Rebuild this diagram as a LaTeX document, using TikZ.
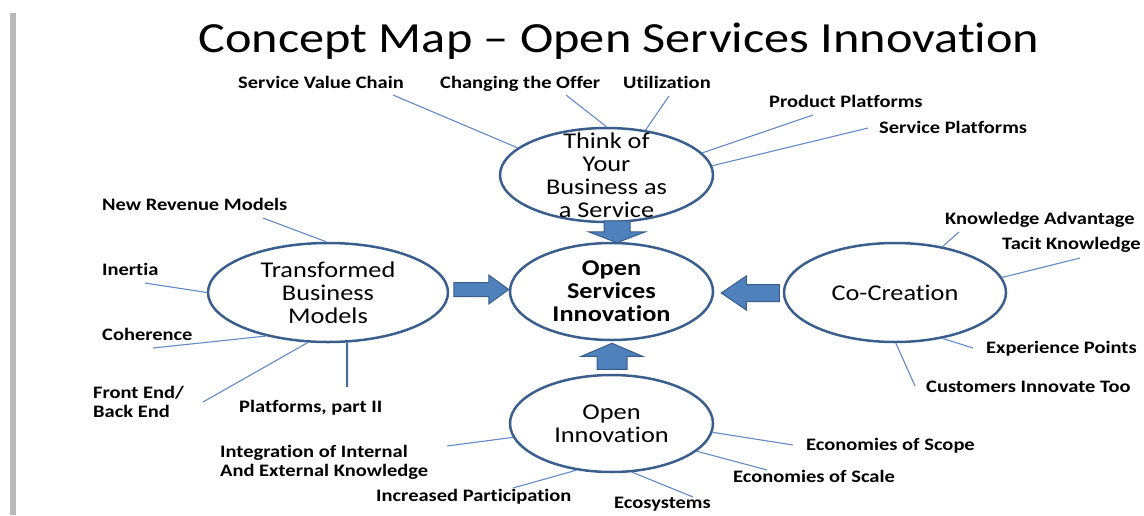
\documentclass[tikz,border=0pt]{standalone}
\usepackage{fontspec}
\setmainfont[FakeStretch=1.17, Ligatures={TeX,NoCommon}]{Carlito}
\usetikzlibrary{shapes.geometric}
\definecolor{rimblue}{RGB}{58,95,140}
\definecolor{arrowfill}{RGB}{79,129,189}
\definecolor{arrowrim}{RGB}{56,93,138}
\definecolor{twigblue}{RGB}{98,138,198}
\tikzset{
  concept/.style={ellipse, draw=rimblue, line width=2.5, inner sep=0pt, align=center,
    font=\fontsize{22.5}{23}\selectfont},
  leaf/.style={anchor=base west, inner sep=0pt, align=left,
    font=\fontsize{17.5}{18.5}\selectfont\bfseries},
  twig/.style={draw=twigblue, line width=1.1},
  blockarrow/.style={fill=arrowfill, draw=arrowrim, line width=1, line join=miter}
}
\begin{document}
\begin{tikzpicture}[x=1pt,y=-1pt]
\useasboundingbox (0,0) rectangle (1144,515);
\fill [gray!55] (10,13) rectangle (16,515);
\node [anchor=base, inner sep=0pt, font=\fontsize{43}{50}\selectfont] (title) at (619,52) {Concept Map – Open Services Innovation};
% concepts
\node [concept, minimum width=213, minimum height=94, inner ysep=-15pt] (think) at (606.5,175) {Think of\\Your\\Business as\\a Service};
\node [concept, minimum width=203, minimum height=97, font=\fontsize{22.5}{23}\selectfont\bfseries] (osi) at (611.5,291.5) {Open\\Services\\Innovation};
\node [concept, minimum width=240, minimum height=99] (tbm) at (328,292.5) {Transformed\\Business\\Models};
\node [concept, minimum width=222, minimum height=99] (cocreate) at (895,292.5) {Co-Creation};
\node [concept, minimum width=203, minimum height=97] (openinno) at (611.5,423.5) {Open\\Innovation};
% leaves
\node [leaf] (svc) at (238,88.5) {Service Value Chain};
\node [leaf] (offer) at (440,88.5) {Changing the Offer};
\node [leaf] (util) at (623,88.5) {Utilization};
\node [leaf] (prodplat) at (769,107.5) {Product Platforms};
\node [leaf] (servplat) at (879,133.5) {Service Platforms};
\node [leaf] (knowadv) at (945,224.5) {Knowledge Advantage};
\node [leaf] (tacit) at (1002,249.5) {Tacit Knowledge};
\node [leaf] (exppts) at (986,353.5) {Experience Points};
\node [leaf] (custinno) at (926,392.5) {Customers Innovate Too};
\node [leaf] (newrev) at (102,210.5) {New Revenue Models};
\node [leaf] (inertia) at (102,275.5) {Inertia};
\node [leaf] (coher) at (102,340.5) {Coherence};
\node [leaf] (frontend) at (93,417) {Front End/\\Back End};
\node [leaf] (platforms) at (239,412.5) {Platforms, part II};
\node [leaf] (integr) at (220,476) {Integration of Internal\\And External Knowledge};
\node [leaf] (partic) at (376,501.5) {Increased Participation};
\node [leaf] (ecosys) at (614,508.5) {Ecosystems};
\node [leaf] (scope) at (806,450.5) {Economies of Scope};
\node [leaf] (scale) at (733,482.5) {Economies of Scale};
% free ends of the twigs
\coordinate (svcend) at (393,95);
\coordinate (offerend) at (566,95);
\coordinate (utilend) at (669,96);
\coordinate (prodplatend) at (813,115);
\coordinate (servplatend) at (868,128);
\coordinate (knowadvend) at (959,232);
\coordinate (tacitend) at (1080,258);
\coordinate (expptsend) at (973,348);
\coordinate (custinnoend) at (915,386);
\coordinate (newrevend) at (263,218);
\coordinate (inertiaend) at (145,283);
\coordinate (coherend) at (153,348);
\coordinate (frontendend) at (203,402);
\coordinate (platformsend) at (347,387);
\coordinate (integrend) at (447,446);
\coordinate (particend) at (513,488);
\coordinate (ecosysend) at (693,497);
\coordinate (scopeend) at (793,445);
\coordinate (scaleend) at (767,470);
\draw [twig] (think.163) -- (svcend);
\draw [twig] (think.90) -- (offerend);
\draw [twig] (think.49) -- (utilend);
\draw [twig] (think.13) -- (prodplatend);
\draw [twig] (think.5) -- (servplatend);
\draw [twig] (cocreate.44) -- (knowadvend);
\draw [twig] (cocreate.8) -- (tacitend);
\draw [twig] (cocreate.-44) -- (expptsend);
\draw [twig] (cocreate.-89) -- (custinnoend);
\draw [twig] (tbm.92) -- (newrevend);
\draw [twig] (tbm.180) -- (inertiaend);
\draw [twig] (tbm.-145) -- (coherend);
\draw [twig] (tbm.-112) -- (frontendend);
\draw [twig, draw=rimblue!70!twigblue, line width=2] (tbm.-69) -- (platformsend);
\draw [twig] (openinno.188) -- (integrend);
\draw [twig] (openinno.-127) -- (particend);
\draw [twig] (openinno.-67) -- (ecosysend);
\draw [twig] (openinno.-5) -- (scopeend);
\draw [twig] (openinno.-18) -- (scaleend);
% block arrows into the centre
\filldraw [blockarrow] (osi.north) ++(5.5,1) -- +(28.5,-11) -- +(13,-11) -- +(13,-22) -- +(-13,-22) -- +(-13,-11) -- +(-28.5,-11) -- cycle;
\filldraw [blockarrow] (osi.south) ++(0.5,2) -- +(30.5,13) -- +(15,13) -- +(15,26) -- +(-15,26) -- +(-15,13) -- +(-30.5,13) -- cycle;
\filldraw [blockarrow] (osi.west) ++(0,-2) -- +(-20,-14.5) -- +(-20,-7) -- +(-55,-7) -- +(-55,7) -- +(-20,7) -- +(-20,14.5) -- cycle;
\filldraw [blockarrow] (osi.east) ++(7,1.5) -- +(25,-17) -- +(25,-8.5) -- +(58,-8.5) -- +(58,8.5) -- +(25,8.5) -- +(25,17) -- cycle;
\end{tikzpicture}
\end{document}
